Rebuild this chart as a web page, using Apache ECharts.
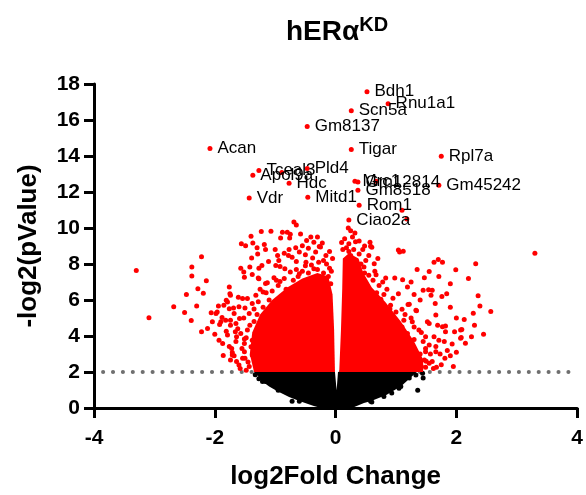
<!DOCTYPE html>
<html>
<head>
<meta charset="utf-8">
<title>hERa KD volcano</title>
<script src="https://cdn.jsdelivr.net/npm/echarts@6/dist/echarts.min.js"></script>
<style>
  html, body { margin: 0; padding: 0; background: #fff; }
  #main { width: 586px; height: 495px; }
</style>
</head>
<body>
<div id="main"></div>
<script>
// labelled genes: log2 fold change / -log2(p)
const geneNames = ['Bdh1', 'Rnu1a1', 'Scn5a', 'Gm8137', 'Acan', 'Tigar', 'Rpl7a', 'Pld4',
  'Apol9a', 'Tceal3', 'Hdc', 'Gm12814', 'Mrc1', 'Gm8518', 'Gm45242', 'Vdr', 'Mitd1', 'Rom1', 'Ciao2a']
const geneFC = [0.52, 0.87, 0.26, -0.47, -2.08, 0.26, 1.75, -0.47,
  -1.37, -1.27, -0.77, 0.37, 0.32, 0.37, 1.71, -1.43, -0.46, 0.39, 0.22]
const geneP = [17.57, 16.90, 16.52, 15.64, 14.42, 14.36, 13.98, 13.31,
  12.93, 13.20, 12.49, 12.55, 12.60, 12.10, 12.38, 11.66, 11.71, 11.27, 10.44]

const upLeft = [
  [-3.30, 7.64], [-3.09, 5.01], [-2.68, 5.62], [-2.50, 5.30], [-2.47, 6.30], [-2.39, 4.86], [-2.38, 7.83],
  [-2.38, 7.33], [-2.30, 5.67], [-2.28, 6.63], [-2.22, 8.40], [-2.22, 4.24], [-2.19, 6.37], [-2.14, 7.07],
  [-2.12, 4.42], [-2.06, 5.29], [-2.04, 4.79], [-2.00, 4.10], [-1.98, 5.25], [-1.94, 5.67], [-1.92, 4.64],
  [-1.88, 5.03], [-1.87, 3.59], [-1.86, 2.91], [-1.85, 5.71], [-1.81, 4.27], [-1.79, 5.89], [-1.76, 6.72],
  [-1.75, 6.35], [-1.74, 4.88], [-1.72, 3.31], [-1.71, 2.94], [-1.69, 5.56], [-1.66, 4.24], [-1.64, 2.58],
  [-1.61, 6.15], [-1.59, 4.97], [-1.57, 7.77], [-1.56, 9.12], [-1.52, 7.55], [-1.51, 3.83], [-1.50, 2.76],
  [-1.49, 9.02], [-1.40, 9.54], [-1.39, 8.33], [-1.37, 9.17], [-1.29, 8.56], [-1.28, 7.22], [-1.27, 7.77],
  [-1.23, 9.80], [-1.20, 6.45], [-1.16, 8.80], [-1.13, 6.96], [-1.11, 8.14], [-1.07, 9.82], [-0.99, 7.92],
  [-0.96, 8.47], [-0.94, 8.19], [-0.92, 7.03], [-0.88, 9.76], [-0.84, 7.73], [-0.80, 9.76], [-0.77, 8.80],
  [-0.75, 9.65], [-0.72, 8.38], [-0.65, 8.14], [-0.60, 7.46], [-0.58, 9.67], [-0.55, 9.02], [-0.50, 8.51],
  [-0.49, 8.10], [-0.45, 8.88], [-0.41, 9.50], [-0.38, 8.33], [-0.36, 7.73], [-0.33, 8.66], [-0.25, 8.95],
  [-0.22, 9.17], [-0.20, 8.19], [-0.16, 8.47], [-0.10, 7.77],
  [-1.76, 3.41], [-1.74, 2.67], [-1.71, 3.08], [-1.64, 3.96], [-1.60, 2.39], [-1.54, 2.76], [-1.51, 3.59],
  [-1.43, 2.30], [-1.38, 2.94], [-0.91, 9.45], [-0.76, 9.45], [-1.18, 9.08], [-0.36, 9.21], [-0.66, 8.90],
  [-0.27, 8.97], [-0.78, 8.47], [-0.60, 8.66], [-1.42, 7.83], [-1.22, 7.92], [-0.92, 7.86], [-1.38, 7.42],
  [-1.27, 7.18], [-1.51, 7.27], [-1.16, 6.91], [-1.02, 7.24], [-1.81, 5.98], [-1.76, 5.52], [-1.96, 5.34],
  [-1.90, 4.79], [-1.82, 4.88], [-1.74, 4.60], [-1.79, 4.05], [-1.93, 3.77], [-1.68, 5.25], [-1.65, 4.70],
  [-1.60, 5.62], [-1.54, 6.08], [-1.74, 6.26], [-1.57, 4.14], [-1.51, 3.13], [-1.46, 4.33], [-1.43, 5.25],
  [-1.38, 5.80], [-1.38, 3.77], [-1.32, 6.26], [-1.46, 6.08], [-1.05, 6.50], [-0.95, 6.80], [-0.82, 6.60],
  [-0.70, 7.10], [-0.62, 7.30], [-0.55, 7.60], [-0.45, 7.50], [-0.30, 7.70], [-0.20, 7.50], [-0.12, 7.30],
  [-0.08, 6.90], [-1.10, 6.00], [-1.20, 5.60], [-1.30, 5.20], [-1.35, 4.80],
  [-1.45, 2.55], [-1.55, 3.30], [-1.48, 3.90], [-1.42, 4.60], [-1.52, 5.00], [-1.35, 5.50], [-1.28, 5.90],
  [-1.65, 3.70], [-1.68, 2.90], [-1.58, 2.20], [-1.48, 2.10], [-1.40, 3.40], [-1.62, 4.40], [-1.50, 5.55],
  [-1.25, 6.60], [-1.15, 6.40], [-0.98, 7.10], [-0.85, 7.20], [-0.75, 7.55], [-0.65, 7.70], [-0.50, 7.90],
  [-0.40, 7.95], [-0.28, 8.10], [-0.15, 8.00], [-0.07, 7.60], [-0.05, 8.30], [-0.10, 8.70], [-0.30, 9.50],
  [-0.48, 9.30], [-1.00, 8.80], [-0.85, 8.60], [-1.30, 8.90],
  [-0.89, 13.09], [-0.69, 10.33], [-0.65, 10.17]
]
const upRight = [
  [3.30, 8.60], [2.32, 8.01], [1.99, 7.68], [1.70, 8.25], [1.77, 8.10], [1.63, 8.10], [1.55, 7.59],
  [1.47, 7.24], [1.71, 7.31], [1.45, 6.54], [1.54, 6.57], [1.60, 6.54], [1.76, 6.20], [1.84, 6.35],
  [2.36, 6.23], [2.39, 5.67], [2.57, 5.36], [2.28, 5.27], [2.13, 4.92], [2.07, 4.33], [1.97, 4.24],
  [2.25, 3.96], [2.08, 3.91], [1.93, 3.55], [1.81, 2.76], [1.04, 8.78], [1.12, 8.71], [1.06, 8.66],
  [0.83, 7.22], [0.98, 7.22], [1.11, 7.13], [1.19, 6.72], [1.04, 6.35], [0.75, 6.04], [1.20, 5.75],
  [1.33, 5.43], [1.52, 4.79], [1.66, 5.16], [1.77, 4.51], [1.82, 4.24], [1.63, 3.96], [1.71, 3.77],
  [1.49, 3.31], [1.66, 3.13], [1.60, 2.58], [1.47, 2.67],
  [0.21, 10.00], [0.25, 9.85], [0.32, 9.72], [0.22, 9.12], [0.33, 9.24], [0.39, 9.28], [0.57, 9.21],
  [0.58, 8.99], [0.60, 8.93], [0.39, 8.56], [0.55, 8.47], [0.50, 8.19], [0.22, 8.69], [0.25, 8.47],
  [0.47, 7.83], [0.64, 8.01], [0.55, 7.37], [0.67, 7.40], [0.72, 6.81], [0.50, 6.63],
  [0.91, 5.71], [1.22, 5.76], [1.34, 5.40], [1.10, 5.49], [1.00, 5.34], [0.77, 5.07], [0.69, 5.52],
  [0.53, 5.62], [0.60, 5.21], [1.55, 4.70], [1.69, 4.60], [1.82, 4.55], [2.09, 4.36], [1.58, 6.26],
  [2.07, 3.87], [1.80, 3.69], [1.66, 3.41], [1.49, 3.13], [1.38, 2.76], [1.55, 2.49], [1.67, 2.27],
  [1.49, 2.27], [1.37, 2.34], [1.27, 3.41], [1.19, 4.14], [1.05, 4.24], [1.38, 4.33], [1.27, 4.79],
  [1.13, 4.88], [1.49, 3.96], [0.15, 9.40], [0.18, 8.90], [0.30, 8.80], [0.42, 8.00], [0.35, 7.90],
  [0.12, 8.80], [0.10, 9.20], [0.28, 9.50], [0.45, 8.80], [0.48, 9.00], [0.70, 8.30], [0.65, 7.60],
  [0.78, 7.00], [0.85, 6.60], [0.95, 6.10], [0.90, 5.50], [1.15, 5.20], [1.25, 5.00], [1.30, 4.50],
  [1.42, 4.20], [1.45, 3.70], [1.55, 3.50], [1.57, 3.00], [1.50, 2.60], [1.62, 2.20], [1.40, 3.00],
  [1.42, 2.30], [1.30, 3.80], [1.10, 4.50], [0.80, 6.30], [0.68, 6.40], [0.62, 7.10], [0.48, 7.50],
  [1.75, 2.40], [1.73, 3.00], [1.90, 2.90], [1.95, 2.30], [2.00, 3.10], [1.85, 3.20], [2.15, 3.60],
  [2.30, 4.60], [2.45, 4.10], [2.00, 5.00], [1.90, 5.60], [1.65, 5.80], [1.40, 6.00], [1.30, 6.30],
  [1.25, 7.00], [1.35, 7.70], [1.90, 6.90], [2.20, 7.20],
  [0.67, 12.60], [1.10, 10.99], [1.18, 10.50]
]
// non-significant (black) stragglers under the cut-off
const notSig = [
  [-1.27, 1.62], [-1.21, 1.47], [-1.06, 1.44], [-0.95, 0.98], [-0.60, 0.37], [-0.72, 0.37], [-1.16, 1.47],
  [0.58, 0.37], [0.80, 0.64], [0.93, 0.83], [1.08, 1.20], [1.36, 0.98], [1.22, 1.66], [1.33, 1.84],
  [1.44, 1.93], [1.45, 1.66], [1.05, 1.10], [0.60, 0.33], [-1.33, 1.85], [-1.30, 1.95]
]
// outlines of the solid, overplotted parts of the cloud
const leftCore = [[-1.35, 2.0], [-1.42, 3.0], [-1.38, 4.2], [-1.25, 5.2], [-1.05, 6.0], [-0.80, 6.7],
  [-0.55, 7.2], [-0.30, 7.5], [-0.12, 7.3], [-0.05, 6.3], [-0.025, 4.4], [-0.01, 2.0]]
const rightCore = [[0.06, 2.0], [0.09, 4.42], [0.11, 6.63], [0.12, 8.3], [0.22, 8.6], [0.38, 8.3],
  [0.46, 7.5], [0.60, 6.7], [0.82, 5.9], [1.08, 4.8], [1.30, 3.7], [1.45, 2.7], [1.45, 2.0]]
const blackCore = [[-1.30, 2.0], [-1.27, 1.62], [-1.10, 1.19], [-0.97, 0.94], [-0.77, 0.61], [-0.60, 0.39],
  [-0.36, 0.11], [-0.24, 0.0], [0.27, 0.0], [0.47, 0.28], [0.59, 0.39], [0.84, 0.72], [1.09, 1.22],
  [1.25, 1.71], [1.34, 2.0], [0.04, 2.0], [0.017, 0.99], [-0.01, 2.0]]

const cutoff = 2
const cutoffSpan = [-3.85, 3.92]
const xRange = [-4, 4, 2]
const yRange = [0, 18, 2]

const FONT = '"Liberation Sans", Arial, sans-serif'
const RED = '#ff0000'

const chart = echarts.init(document.getElementById('main'), null, { renderer: 'canvas' })

function areaSeries(points, color, z) {
  return {
    type: 'custom',
    silent: true,
    z: z,
    data: points,
    encode: { x: 0, y: 1 },
    renderItem(params, api) {
      if (params.dataIndex !== 0) return null
      return {
        type: 'polygon',
        shape: { points: points.map((p) => api.coord(p)) },
        style: { fill: color },
      }
    },
  }
}

function dots(data, color, z) {
  return {
    type: 'scatter',
    symbolSize: 5,
    z: z,
    itemStyle: { color: color, opacity: 1 },
    data: data,
    silent: true,
  }
}

const option = {
  animation: false,
  backgroundColor: '#fff',
  title: {
    text: '{a|hERα}{b|KD}',
    left: 281,
    top: 10,
    textStyle: {
      rich: {
        a: { fontSize: 28, fontWeight: 'bold', fontFamily: FONT, color: '#000', lineHeight: 34 },
        b: { fontSize: 20, fontWeight: 'bold', fontFamily: FONT, color: '#000', verticalAlign: 'top', lineHeight: 22 },
      },
    },
  },
  grid: { left: 94, right: 8, top: 84, bottom: 85 },
  xAxis: {
    type: 'value',
    min: xRange[0],
    max: xRange[1],
    interval: xRange[2],
    name: 'log2Fold Change',
    nameLocation: 'middle',
    nameGap: 56,
    nameTextStyle: { fontSize: 26, fontWeight: 'bold', fontFamily: FONT, color: '#000' },
    axisLine: { onZero: false, lineStyle: { color: '#000', width: 3 } },
    axisTick: { length: 10, lineStyle: { color: '#000', width: 3 } },
    axisLabel: { margin: 20, fontSize: 21, fontWeight: 'bold', fontFamily: FONT, color: '#000' },
    splitLine: { show: false },
  },
  yAxis: {
    type: 'value',
    min: yRange[0],
    max: yRange[1],
    interval: yRange[2],
    name: '-log2(pValue)',
    nameLocation: 'middle',
    nameGap: 52,
    nameTextStyle: { fontSize: 26, fontWeight: 'bold', fontFamily: FONT, color: '#000' },
    axisLine: { show: true, onZero: false, lineStyle: { color: '#000', width: 3 } },
    axisTick: { show: true, length: 10, lineStyle: { color: '#000', width: 3 } },
    axisLabel: { margin: 14, fontSize: 21, fontWeight: 'bold', fontFamily: FONT, color: '#000' },
    splitLine: { show: false },
  },
  series: [
    {
      type: 'line',
      silent: true,
      z: 1,
      symbol: 'none',
      data: cutoffSpan.map((x) => [x, cutoff]),
      lineStyle: { color: '#6f6f6f', width: 4, type: [0.1, 9.8], cap: 'round' },
    },
    areaSeries(blackCore, '#000', 2),
    dots(notSig, '#000', 3),
    areaSeries(leftCore, RED, 4),
    areaSeries(rightCore, RED, 4),
    dots(upLeft, RED, 5),
    dots(upRight, RED, 5),
    {
      type: 'scatter',
      symbolSize: 5,
      z: 6,
      silent: true,
      itemStyle: { color: RED, opacity: 1 },
      data: geneNames.map((n, i) => ({ name: n, value: [geneFC[i], geneP[i]] })),
      label: {
        show: true,
        position: 'right',
        distance: 5,
        formatter: '{b}',
        fontSize: 17,
        fontFamily: FONT,
        color: '#000',
      },
      labelLayout: { hideOverlap: false },
    },
  ],
}

chart.setOption(option)
</script>
</body>
</html>
